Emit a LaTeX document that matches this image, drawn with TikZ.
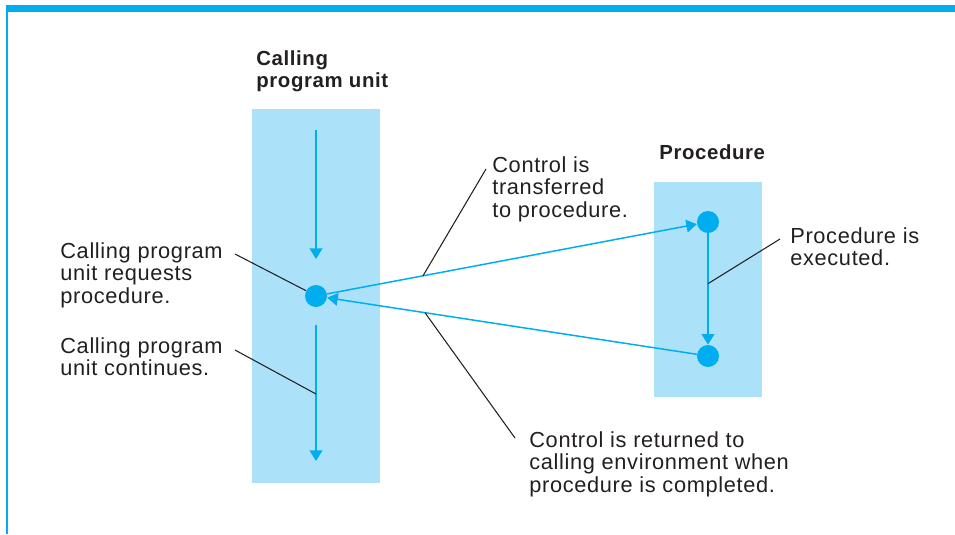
\documentclass[tikz,border=0pt]{standalone}
\usepackage{fontspec}
\setmainfont{Liberation Sans}[LetterSpace=3]
\usepackage{xcolor}
\usetikzlibrary{arrows.meta,positioning,calc}

\definecolor{flowblue}{HTML}{00AEEF}
\definecolor{boxblue}{HTML}{ACE1FA}
\definecolor{inkgray}{HTML}{231F20}

\begin{document}
\begin{tikzpicture}[
    x=0.02cm, y=-0.02cm,
    unitbox/.style={rectangle, fill=boxblue, inner sep=0pt},
    dot/.style={circle, fill=flowblue, inner sep=0pt, minimum size=0.44cm},
    flow/.style={-{Triangle[length=6pt, width=7.2pt]}, draw=flowblue, line width=0.85pt},
    leader/.style={draw=inkgray, line width=0.6pt},
    lbl/.style={anchor=north west, align=left, inner sep=0pt, text=inkgray, font=\fontsize{12.4}{13}\selectfont},
    title/.style={lbl, font=\fontsize{11.6}{13}\selectfont\bfseries}
]
\useasboundingbox (0,0) rectangle (955,534);

% Frame
\fill[flowblue] (6,5) rectangle (955,12);
\fill[flowblue] (6,5) rectangle (8,534);

% Boxes
\node[unitbox, minimum width=2.56cm, minimum height=7.48cm] (callbox) at (316,296) {};
\node[unitbox, minimum width=2.16cm, minimum height=4.30cm] (procbox) at (708,289.5) {};

\node[title] (calltitle) at (256,50) {Calling\\program unit};
\node[title] (proctitle) at (659,144) {Procedure};

% Dots
\node[dot] (reqdot) at (316,296) {};
\node[dot] (topdot) at (708,222) {};
\node[dot] (botdot) at (708,356) {};

\coordinate (callin) at (316,130);
\coordinate (callstop) at (316,259);
\coordinate (contstart) at (316,325);
\coordinate (contend) at (316,461);

% Flow arrows
\draw[flow] (callin) -- (callstop);
\draw[flow] (contstart) -- (contend);
\draw[flow] (reqdot) -- (topdot);
\draw[flow] (topdot) -- (botdot);
\draw[flow] (botdot) -- (reqdot);

% Labels
\node[lbl] (reqtext) at (60,242) {Calling program\\unit requests\\procedure.};
\node[lbl] (conttext) at (60,337) {Calling program\\unit continues.};
\node[lbl] (xfertext) at (492,156) {Control is\\transferred\\to procedure.};
\node[lbl] (exectext) at (790,227) {Procedure is\\executed.};
\node[lbl] (rettext) at (529,431) {Control is returned to\\calling environment when\\procedure is completed.};

% Leaders
\coordinate (reqlead) at (235,254);
\coordinate (contlead) at (235,350);
\coordinate (xferlead) at (486,169);
\coordinate (execlead) at (780,239);
\coordinate (retlead) at (515,438);

\draw[leader] (reqlead) -- (reqdot.152);
\draw[leader] (contlead) -- (316,394);
\draw[leader] (xferlead) -- ($(reqdot)!0.273!(topdot)$);
\draw[leader] (execlead) -- ($(topdot)!0.46!(botdot)$);
\draw[leader] (retlead) -- ($(botdot)!0.722!(reqdot)$);

\end{tikzpicture}
\end{document}
